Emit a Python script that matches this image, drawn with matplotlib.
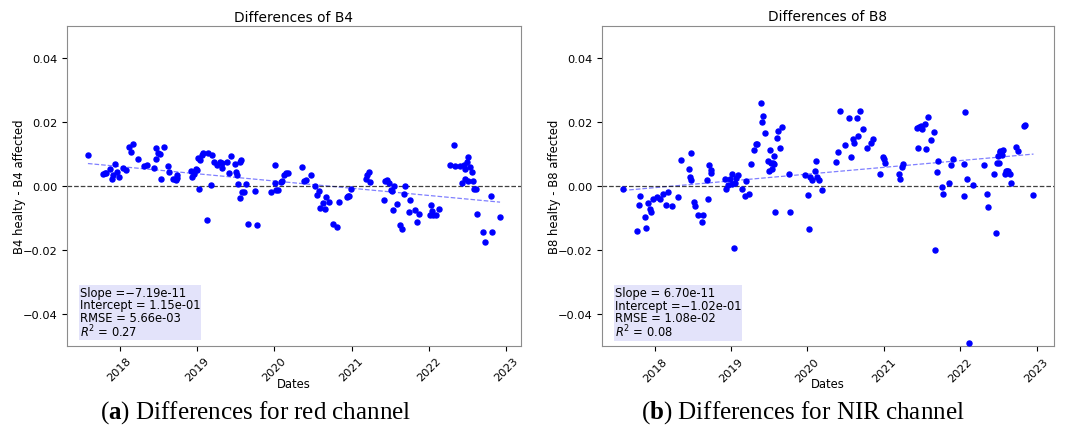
import matplotlib
matplotlib.use('Agg')
import matplotlib.pyplot as plt
import matplotlib.dates as mdates
from datetime import datetime, timedelta

# ---- data (decimal years, differences) ----
B4_YEARS = [2017.591, 2017.781, 2017.807, 2017.824, 2017.880, 2017.897, 2017.919, 2017.945, 2017.962, 2017.992,
            2018.039, 2018.078, 2018.125, 2018.151, 2018.177, 2018.233, 2018.315, 2018.354, 2018.448, 2018.466,
            2018.478, 2018.491, 2018.517, 2018.530, 2018.569, 2018.625, 2018.642, 2018.690, 2018.720, 2018.741,
            2018.724, 2018.737, 2018.926, 2018.939, 2018.969, 2018.991, 2019.008, 2019.017, 2019.043, 2019.034,
            2019.064, 2019.086, 2019.142, 2019.193, 2019.129, 2019.185, 2019.223, 2019.262, 2019.301, 2019.327,
            2019.331, 2019.387, 2019.417, 2019.443, 2019.490, 2019.512, 2019.525, 2019.555, 2019.576, 2019.538,
            2019.564, 2019.590, 2019.603, 2019.633, 2019.659, 2019.754, 2019.771, 2019.952, 2020.008, 2020.016,
            2020.029, 2020.055, 2020.094, 2020.107, 2020.124, 2020.154, 2020.175, 2020.365, 2020.386, 2020.412,
            2020.477, 2020.528, 2020.554, 2020.580, 2020.597, 2020.636, 2020.653, 2020.675, 2020.713, 2020.761,
            2020.812, 2020.843, 2020.937, 2020.955, 2020.972, 2020.989, 2021.183, 2021.196, 2021.222, 2021.239,
            2021.411, 2021.428, 2021.454, 2021.476, 2021.506, 2021.523, 2021.532, 2021.549, 2021.588, 2021.627,
            2021.644, 2021.670, 2021.683, 2021.739, 2021.752, 2021.821, 2021.846, 2021.872, 2022.019, 2022.040,
            2022.014, 2022.057, 2022.087, 2022.131, 2022.277, 2022.324, 2022.337, 2022.402, 2022.427, 2022.449,
            2022.462, 2022.470, 2022.488, 2022.500, 2022.509, 2022.526, 2022.552, 2022.569, 2022.586, 2022.608,
            2022.621, 2022.703, 2022.720, 2022.798, 2022.815, 2022.918]
B4_DIFF = [0.00961, 0.00376, 0.00397, 0.00418, 0.00533, 0.00219, 0.00345, 0.00700, 0.00439, 0.00293,
           0.00554, 0.00512, 0.01233, 0.01066, 0.01317, 0.00846, 0.00617, 0.00658, 0.00575, 0.01191,
           0.00846, 0.01045, 0.01003, 0.00219, 0.01233, 0.00617, 0.00428, 0.00209, 0.00230, 0.00240,
           0.00188, 0.00345, 0.00481, 0.00282, 0.00387, 0.00543, 0.00491, 0.00867, 0.00805, -0.00105,
           0.00961, 0.01045, 0.01045, 0.00972, -0.01066, 0.00031, 0.00742, 0.00669, 0.00742, 0.00575,
           0.00732, 0.00763, 0.00418, 0.00941, 0.00690, 0.00449, 0.00355, 0.00742, 0.00826, 0.00052,
           -0.00387, -0.00178, -0.00199, 0.00052, -0.01181, -0.00167, -0.01233, -0.00199, 0.00084, 0.00669,
           -0.00136, -0.00125, 0.00115, 0.00157, 0.00355, 0.00408, 0.00408, 0.00606, 0.00157, 0.00199,
           0.00334, 0.00010, -0.00293, -0.00167, -0.00700, -0.00543, -0.00721, -0.00345, -0.00512, -0.01191,
           -0.01285, -0.00502, -0.00345, -0.00303, -0.00314, -0.00105, 0.00230, 0.00334, 0.00428, 0.00125,
           -0.00449, 0.00146, 0.00188, 0.00094, -0.00136, -0.00167, -0.00742, 0.00010, -0.00554, -0.01212,
           -0.01359, -0.00251, 0.00010, -0.00826, -0.00449, -0.00752, -0.01139, -0.00888, -0.00606, -0.00784,
           -0.00920, -0.00920, -0.00920, -0.00711, 0.00658, 0.01275, 0.00617, 0.00637, 0.00105, 0.00669,
           0.00543, 0.00209, 0.00742, 0.00146, 0.00909, 0.00585, 0.00449, 0.00157, -0.00105, -0.00094,
           -0.00878, -0.01442, -0.01756, -0.00314, -0.01453, -0.00961]

B8_YEARS = [2017.577, 2017.769, 2017.795, 2017.808, 2017.865, 2017.882, 2017.904, 2017.935, 2017.948, 2017.978,
            2018.026, 2018.070, 2018.109, 2018.144, 2018.166, 2018.222, 2018.301, 2018.344, 2018.444, 2018.458,
            2018.471, 2018.479, 2018.510, 2018.523, 2018.562, 2018.619, 2018.636, 2018.688, 2018.702, 2018.715,
            2018.732, 2018.741, 2018.924, 2018.932, 2018.959, 2018.989, 2019.007, 2019.011, 2019.033, 2019.050,
            2019.059, 2019.085, 2019.142, 2019.181, 2019.194, 2019.229, 2019.264, 2019.303, 2019.325, 2019.333,
            2019.386, 2019.403, 2019.420, 2019.442, 2019.481, 2019.499, 2019.512, 2019.525, 2019.538, 2019.547,
            2019.560, 2019.564, 2019.577, 2019.595, 2019.608, 2019.638, 2019.660, 2019.760, 2019.773, 2019.965,
            2020.009, 2020.017, 2020.039, 2020.061, 2020.100, 2020.113, 2020.131, 2020.157, 2020.187, 2020.375,
            2020.405, 2020.431, 2020.488, 2020.545, 2020.571, 2020.597, 2020.614, 2020.649, 2020.667, 2020.693,
            2020.732, 2020.780, 2020.828, 2020.863, 2020.954, 2020.985, 2020.998, 2021.011, 2021.203, 2021.216,
            2021.242, 2021.255, 2021.434, 2021.451, 2021.464, 2021.486, 2021.495, 2021.534, 2021.556, 2021.573,
            2021.617, 2021.651, 2021.669, 2021.695, 2021.712, 2021.765, 2021.778, 2021.852, 2021.874, 2021.909,
            2022.044, 2022.052, 2022.065, 2022.087, 2022.109, 2022.166, 2022.309, 2022.353, 2022.366, 2022.444,
            2022.466, 2022.479, 2022.492, 2022.510, 2022.519, 2022.527, 2022.536, 2022.545, 2022.562, 2022.584,
            2022.597, 2022.610, 2022.627, 2022.645, 2022.658, 2022.736, 2022.758, 2022.832, 2022.850, 2022.959]
B8_DIFF = [-0.00083, -0.01406, -0.00589, -0.00321, -0.00972, -0.01324, -0.00517, -0.00724, -0.00827, -0.00414,
           -0.00341, -0.00403, -0.00259, -0.00589, -0.00176, -0.00610, -0.00331, 0.00807, 0.00527, 0.00279,
           0.00196, 0.01034, -0.00486, -0.00620, -0.00910, -0.01117, -0.00910, 0.00176, -0.00393, 0.00641,
           0.00486, 0.00393, 0.00217, -0.00083, 0.00041, 0.00217, 0.00362, 0.00052, -0.01923, 0.00083,
           0.00238, 0.00331, -0.00083, -0.00300, 0.00145, -0.00248, 0.00693, 0.01127, 0.01313, 0.01324,
           0.02585, 0.01985, 0.02202, 0.01644, 0.00786, 0.00476, 0.01117, 0.00734, 0.00527, 0.00713,
           0.00693, 0.00951, -0.00817, 0.01489, 0.01706, 0.01189, 0.01851, 0.00372, -0.00807, 0.00331,
           -0.00269, -0.01355, 0.00279, 0.00176, 0.00465, 0.00786, 0.00279, 0.00196, -0.00124, 0.00744,
           0.01075, 0.02358, 0.01282, 0.02130, 0.00920, 0.01468, 0.01334, 0.02130, 0.01561, 0.02337,
           0.01778, 0.01179, 0.01334, 0.01458, 0.00372, 0.00910, 0.00838, 0.00713, 0.00372, 0.00207,
           0.00579, 0.00682, 0.01820, 0.01189, 0.01851, 0.01882, 0.01778, 0.01923, 0.01158, 0.02161,
           0.01448, 0.01685, -0.01996, 0.00434, 0.00796, -0.00041, -0.00259, 0.00103, 0.00651, 0.00858,
           0.00682, -0.00321, 0.02306, 0.00227, -0.04920, 0.00021, 0.00641, -0.00238, -0.00641, 0.00383,
           -0.01468, 0.00734, 0.00931, 0.00734, 0.01065, 0.01096, 0.01024, 0.00982, 0.01117, 0.00372,
           0.00455, 0.00455, 0.00455, 0.00362, 0.00093, 0.01210, 0.01096, 0.01872, 0.01913, -0.00269]

# fit stats as printed on the chart (slope per second since epoch)
B4_FIT = {'slope': -7.19e-11, 'intercept': 1.15e-01, 'rmse': 5.66e-03, 'r2': 0.27}
B8_FIT = {'slope': 6.70e-11, 'intercept': -1.02e-01, 'rmse': 1.08e-02, 'r2': 0.08}


def to_date(y):
    yr = int(y)
    return datetime(yr, 1, 1) + timedelta(days=(y - yr) * 365.25)


EPOCH = datetime(1970, 1, 1)

plt.rcParams.update({
    'font.family': 'DejaVu Sans',
    'font.size': 8.2,
    'axes.labelsize': 8.4,
    'mathtext.fontset': 'custom',
    'mathtext.bf': 'Liberation Serif:bold',
    'axes.edgecolor': '#8c8c8c',
    'axes.linewidth': 0.8,
})

fig = plt.figure(figsize=(10.65, 4.35), dpi=100)
ax_l = fig.add_axes([0.0632, 0.2030, 0.4257, 0.7345])
ax_r = fig.add_axes([0.5653, 0.2023, 0.4244, 0.7356])


def fmt_signed(v):
    s = f'{v:.2e}'
    return s.replace('-', '\u2212', 1) if v < 0 else ' ' + s


def draw(ax, years, diff, fit, band):
    dates = [to_date(y) for y in years]
    ax.scatter(dates, diff, s=13, color='blue', zorder=3)
    ends = [dates[0], dates[-1]]
    ax.plot(ends, [fit['intercept'] + fit['slope'] * (d - EPOCH).total_seconds() for d in ends],
            color='blue', ls='--', lw=0.9, alpha=0.5)
    ax.axhline(0, color='black', ls='--', lw=0.9, alpha=0.75)
    ax.set_ylim(-0.05, 0.05)
    ax.xaxis.set_major_locator(mdates.YearLocator())
    ax.xaxis.set_major_formatter(mdates.DateFormatter('%Y'))
    plt.setp(ax.get_xticklabels(), rotation=45)
    ax.set_title(f'Differences of {band}', fontsize=9.9, pad=4)
    ax.set_xlabel('Dates', labelpad=-4.5)
    ax.set_ylabel(f'{band} healty - {band} affected', labelpad=-2.5)
    txt = (f"Slope ={fmt_signed(fit['slope'])}\nIntercept ={fmt_signed(fit['intercept'])}\n"
           f"RMSE = {fit['rmse']:.2e}\n$R^2$ = {fit['r2']:.2f}")
    ax.text(0.028, 0.02, txt, transform=ax.transAxes, fontsize=8.3, va='bottom', ha='left',
            linespacing=0.93,
            bbox=dict(boxstyle='square,pad=0.08', facecolor='#e3e3fa', edgecolor='none'))


draw(ax_l, B4_YEARS, B4_DIFF, B4_FIT, 'B4')
draw(ax_r, B8_YEARS, B8_DIFF, B8_FIT, 'B8')

fig.text(0.2395, 0.052, r'($\mathbf{a}$) Differences for red channel', family='Liberation Serif',
         fontsize=18, ha='center', va='center')
fig.text(0.754, 0.052, r'($\mathbf{b}$) Differences for NIR channel', family='Liberation Serif',
         fontsize=18, ha='center', va='center')

fig.savefig('out.png', dpi=100)
